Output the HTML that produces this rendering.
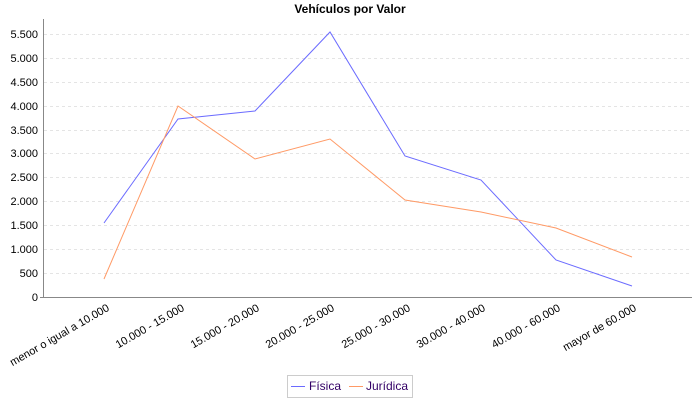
<!DOCTYPE html>
<html><head><meta charset="utf-8"><style>
html,body{margin:0;padding:0;background:#fff;}
svg{display:block;font-family:"Liberation Sans","DejaVu Sans",sans-serif;}
</style></head><body>
<svg width="700" height="400" viewBox="0 0 700 400" xmlns="http://www.w3.org/2000/svg">
<text x="350" y="13" text-anchor="middle" font-size="12" font-weight="bold" fill="#000">Vehículos por Valor</text>
<g stroke="#e4e4e4" stroke-dasharray="3,3" stroke-width="1">
<line x1="44" x2="692" y1="273.5" y2="273.5"/>
<line x1="44" x2="692" y1="249.5" y2="249.5"/>
<line x1="44" x2="692" y1="225.5" y2="225.5"/>
<line x1="44" x2="692" y1="201.5" y2="201.5"/>
<line x1="44" x2="692" y1="177.5" y2="177.5"/>
<line x1="44" x2="692" y1="153.5" y2="153.5"/>
<line x1="44" x2="692" y1="130.5" y2="130.5"/>
<line x1="44" x2="692" y1="106.5" y2="106.5"/>
<line x1="44" x2="692" y1="82.5" y2="82.5"/>
<line x1="44" x2="692" y1="58.5" y2="58.5"/>
<line x1="44" x2="692" y1="34.5" y2="34.5"/>
</g>
<line x1="43.5" x2="43.5" y1="19" y2="297" stroke="#888" stroke-width="1"/>
<line x1="40" x2="692" y1="297.5" y2="297.5" stroke="#888" stroke-width="1"/>
<g font-size="11" fill="#000" text-anchor="end">
<text x="38" y="301">0</text>
<text x="38" y="277">500</text>
<text x="38" y="253">1.000</text>
<text x="38" y="229">1.500</text>
<text x="38" y="205">2.000</text>
<text x="38" y="181">2.500</text>
<text x="38" y="157">3.000</text>
<text x="38" y="134">3.500</text>
<text x="38" y="110">4.000</text>
<text x="38" y="86">4.500</text>
<text x="38" y="62">5.000</text>
<text x="38" y="38">5.500</text>
</g>
<polyline fill="none" stroke="#6b6bff" stroke-width="1" points="104,223 178,119 255,111 330,32 405,156 481,180 556,260 632,286"/>
<polyline fill="none" stroke="#ff9a66" stroke-width="1" points="104,279 178,106 255,159 330,139 405,200 481,212 556,228 632,257"/>
<g font-size="11" fill="#000" text-anchor="end">
<text transform="translate(110,310) rotate(-30)">menor o igual a 10.000</text>
<text transform="translate(185,310) rotate(-30)">10.000 - 15.000</text>
<text transform="translate(260,310) rotate(-30)">15.000 - 20.000</text>
<text transform="translate(335,310) rotate(-30)">20.000 - 25.000</text>
<text transform="translate(411,310) rotate(-30)">25.000 - 30.000</text>
<text transform="translate(486,310) rotate(-30)">30.000 - 40.000</text>
<text transform="translate(561,310) rotate(-30)">40.000 - 60.000</text>
<text transform="translate(637,310) rotate(-30)">mayor de 60.000</text>
</g>
<rect x="287.5" y="375.5" width="125" height="22" fill="#fff" stroke="#ccc"/>
<line x1="291" x2="305" y1="386.5" y2="386.5" stroke="#6b6bff"/>
<text x="309" y="390" font-size="12" fill="#330066">Física</text>
<line x1="349" x2="363" y1="386.5" y2="386.5" stroke="#ff9a66"/>
<text x="366" y="390" font-size="12" fill="#330066">Jurídica</text>
</svg>
</body></html>
